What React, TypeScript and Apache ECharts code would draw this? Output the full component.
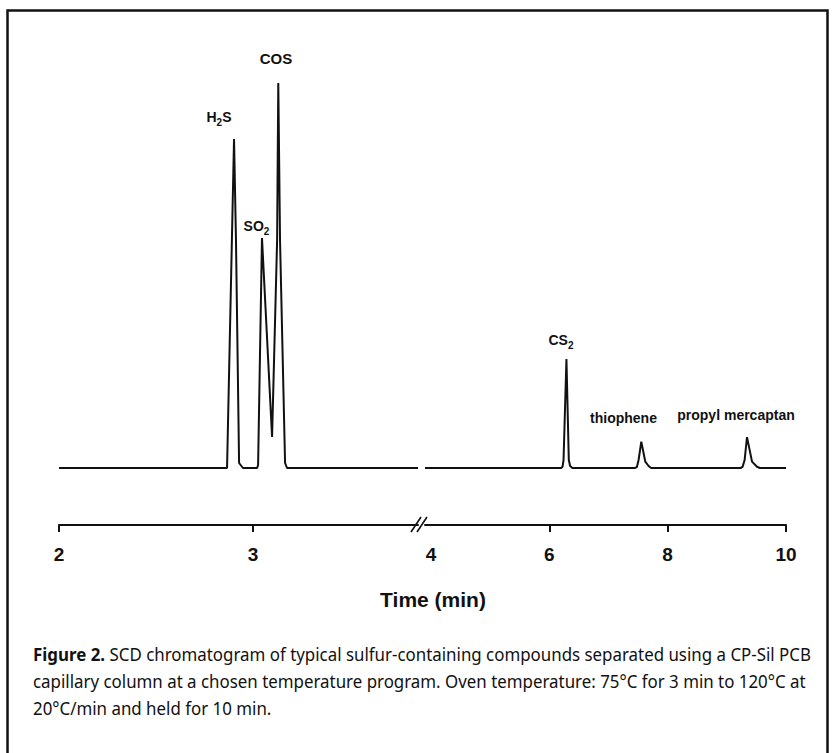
import React, { useEffect, useRef } from 'react';
import * as echarts from 'echarts';

// Chromatogram trace, left segment of the broken time axis (min)
const leftTimes = [2.0, 2.86, 2.866, 2.902, 2.912, 2.928, 2.948, 3.021, 3.026, 3.046, 3.098, 3.124, 3.13, 3.139, 3.165, 3.175, 3.85];
const leftSignal = [0, 0, 0, 82.25, 57, 1.25, 0, 0, 0.75, 57.5, 7.75, 57, 96.25, 57, 1.25, 0, 0];

// Right segment of the broken time axis (min)
const rightTimes = [3.9, 6.2, 6.224, 6.241, 6.29, 6.33, 6.352, 6.39, 7.45, 7.482, 7.509, 7.555, 7.594, 7.622, 7.678, 7.72, 9.23, 9.267, 9.301, 9.341, 9.38, 9.426, 9.51, 9.56, 10.0];
const rightSignal = [0, 0, 0.3, 2, 27.25, 2, 0.5, 0, 0, 0.3, 2, 6.6, 3.7, 1.6, 0.5, 0, 0, 0.3, 2, 7.7, 4.9, 1.6, 0.3, 0, 0];

const leftTickLabels = [2, 3];
const rightTickLabels = [4, 6, 8, 10];
const rightTickMarks = [6, 8, 10];

const axisTitle = 'Time (min)';

const peakLabels = [
  { text: '{m|H}{s|2}{m|S}', x: 219, y: 117 },
  { text: '{m|COS}', x: 276, y: 58.5 },
  { text: '{m|SO}{s|2}', x: 256.5, y: 226 },
  { text: '{m|CS}{s|2}', x: 561, y: 340 },
  { text: '{m|thiophene}', x: 623.5, y: 418 },
  { text: '{m|propyl mercaptan}', x: 736, y: 415 },
];

const captionBold = 'Figure 2.';
const captionLine1 = ' SCD chromatogram of typical sulfur-containing compounds separated using a CP-Sil PCB';
const captionLine2 = 'capillary column at a chosen temperature program. Oven temperature: 75°C for 3 min to 120°C at';
const captionLine3 = '20°C/min and held for 10 min.';

const INK = '#111';
const SANS = '"Liberation Sans", Arial, Helvetica, sans-serif';
const CAP_FONT = '"Noto Sans", "Open Sans", sans-serif';
const CAP_SIZE = 18;

function measure(text: string, font: string): number {
  const c = document.createElement('canvas').getContext('2d');
  if (!c) return text.length * 9;
  c.font = font;
  return c.measureText(text).width;
}

export default function App() {
  const ref = useRef<HTMLDivElement>(null);

  useEffect(() => {
    if (!ref.current) return;
    const chart = echarts.init(ref.current, undefined, { renderer: 'svg' });

    const w1 =
      measure(captionBold, `bold ${CAP_SIZE}px ${CAP_FONT}`) +
      measure(captionLine1, `${CAP_SIZE}px ${CAP_FONT}`);
    const w2 = measure(captionLine2, `${CAP_SIZE}px ${CAP_FONT}`);
    const sx = (780 / w1 + 773 / w2) / 2;

    const capStyle = (text: string, rich?: any) => ({
      text,
      fill: INK,
      fontSize: CAP_SIZE,
      fontFamily: CAP_FONT,
      align: 'left',
      verticalAlign: 'middle',
      rich,
    });

    const baseAxis = {
      type: 'value',
      offset: 57,
      splitLine: { show: false },
      axisLine: { show: true, onZero: false, lineStyle: { color: INK, width: 2 } },
    };
    const labelStyle = {
      margin: 20,
      color: INK,
      fontSize: 19,
      fontWeight: 'bold',
      fontFamily: SANS,
    };

    const option: any = {
      animation: false,
      backgroundColor: '#ffffff',
      grid: [
        { left: 59, top: 68, width: 359, height: 400 },
        { left: 425, top: 68, width: 361, height: 400 },
      ],
      xAxis: [
        {
          ...baseAxis,
          gridIndex: 0,
          min: 2,
          max: 3.85,
          axisTick: { show: true, customValues: leftTickLabels, length: 7, lineStyle: { color: INK, width: 2 } },
          axisLabel: { ...labelStyle, customValues: leftTickLabels },
        },
        {
          ...baseAxis,
          gridIndex: 1,
          min: 3.9,
          max: 10,
          axisTick: { show: true, customValues: rightTickMarks, length: 7, lineStyle: { color: INK, width: 2 } },
          axisLabel: { ...labelStyle, customValues: rightTickLabels },
        },
      ],
      yAxis: [
        { type: 'value', gridIndex: 0, min: 0, max: 100, show: false, splitLine: { show: false } },
        { type: 'value', gridIndex: 1, min: 0, max: 100, show: false, splitLine: { show: false } },
      ],
      series: [
        {
          type: 'line',
          xAxisIndex: 0,
          yAxisIndex: 0,
          data: leftTimes.map((t, i) => [t, leftSignal[i]]),
          showSymbol: false,
          lineStyle: { color: INK, width: 2 },
          silent: true,
        },
        {
          type: 'line',
          xAxisIndex: 1,
          yAxisIndex: 1,
          data: rightTimes.map((t, i) => [t, rightSignal[i]]),
          showSymbol: false,
          lineStyle: { color: INK, width: 2 },
          silent: true,
        },
      ],
      graphic: [
        {
          type: 'rect',
          shape: { x: 7.5, y: 10.5, width: 820, height: 770 },
          style: { fill: 'none', stroke: INK, lineWidth: 2.5 },
          silent: true,
        },
        // axis break marks
        { type: 'line', shape: { x1: 411, y1: 532, x2: 421, y2: 517 }, style: { stroke: INK, lineWidth: 1.6 } },
        { type: 'line', shape: { x1: 417, y1: 532, x2: 427, y2: 517 }, style: { stroke: INK, lineWidth: 1.6 } },
        {
          type: 'text',
          x: 433,
          y: 599,
          style: {
            text: axisTitle,
            fill: INK,
            fontSize: 21,
            fontWeight: 'bold',
            fontFamily: SANS,
            align: 'center',
            verticalAlign: 'middle',
          },
        },
        ...peakLabels.map((p) => ({
          type: 'text',
          x: p.x,
          y: p.y,
          style: {
            text: p.text,
            align: 'center',
            verticalAlign: 'middle',
            rich: {
              m: { fontSize: p.text.indexOf('COS') >= 0 ? 15 : 14, fontWeight: 'bold', fontFamily: SANS, fill: INK },
              s: { fontSize: 10, fontWeight: 'bold', fontFamily: SANS, fill: INK, padding: [11, 0, 0, 0] },
            },
          },
        })),
        {
          type: 'text',
          x: 33,
          y: 654,
          scaleX: sx,
          style: capStyle('{b|' + captionBold + '}' + captionLine1, {
            b: { fontWeight: 'bold', fontSize: CAP_SIZE, fontFamily: CAP_FONT, fill: INK },
          }),
        },
        { type: 'text', x: 33, y: 681, scaleX: sx, style: capStyle(captionLine2) },
        { type: 'text', x: 33, y: 708, scaleX: sx, style: capStyle(captionLine3) },
      ],
    };

    chart.setOption(option);
    return () => chart.dispose();
  }, []);

  return (
    <div
      ref={ref}
      style={{ position: 'absolute', left: 0, top: 0, width: 835, height: 753, background: '#fff' }}
    />
  );
}
